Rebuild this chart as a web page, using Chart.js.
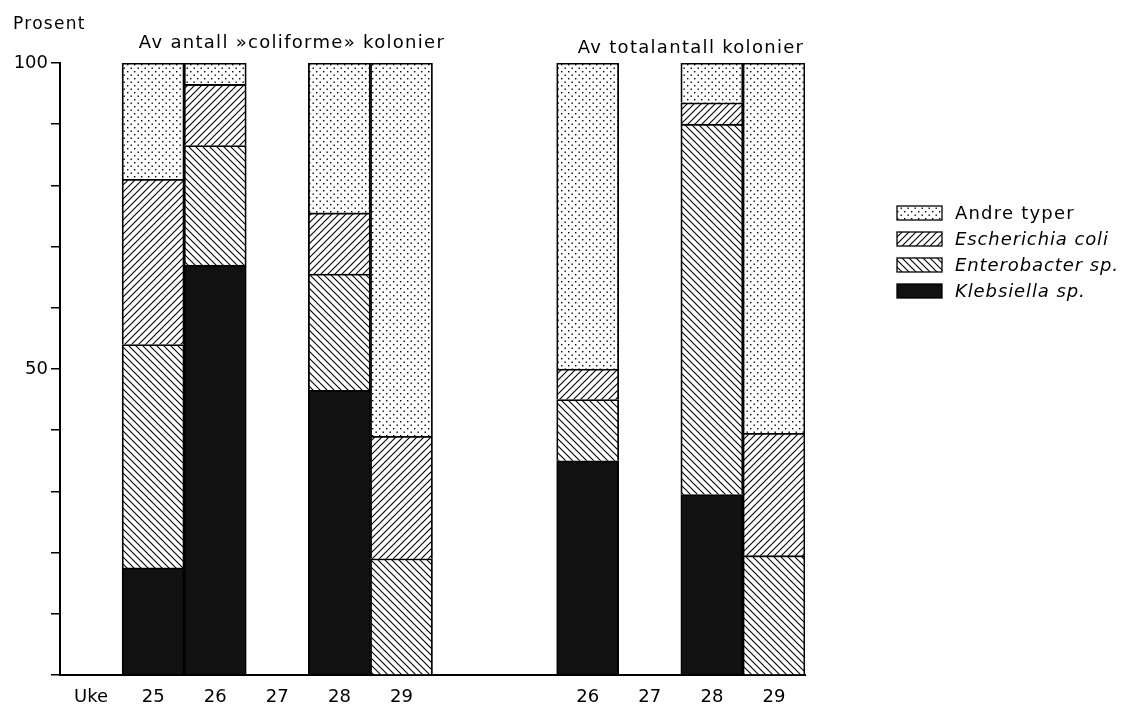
<!DOCTYPE html>
<html>
<head>
<meta charset="utf-8">
<script src="https://cdn.jsdelivr.net/npm/chart.js@4"></script>
<style>
  html, body { margin: 0; background: #fff; }
  #wrap { width: 1122px; height: 716px; }
</style>
</head>
<body>
<div id="wrap"><canvas id="chart"></canvas></div>
<script>
// Data (percent of colonies, stacked bottom to top)
const weeks = ["Uke", "25", "26", "27", "28", "29", "", "", "26", "27", "28", "29"];
const klebsiella   = [null, 17.5, 67,   null, 46.5, null, null, null, 35, null, 29.5, null];
const enterobacter = [null, 36.5, 19.5, null, 19,   19,   null, null, 10, null, 60.5, 19.5];
const eColi        = [null, 27,   10,   null, 10,   20,   null, null, 5,  null, 3.5,  20];
const andreTyper   = [null, 19,   3.5,  null, 24.5, 61,   null, null, 50, null, 6.5,  60.5];
const labeledTicks = [50, 100];

const FONT = "'DejaVu Sans', Arial, sans-serif";

// Fill patterns like the printed hatching
function makePattern(kind) {
  const c = document.createElement("canvas");
  const s = 7;
  c.width = s; c.height = s;
  const g = c.getContext("2d");
  g.fillStyle = "#fff";
  g.fillRect(0, 0, s, s);
  g.strokeStyle = "#000";
  g.fillStyle = "#000";
  g.lineWidth = 1.1;
  if (kind === "dots") {
    g.fillRect(1, 1, 1.4, 1.4);
    g.fillRect(4.5, 4.5, 1.4, 1.4);
  } else if (kind === "fwd") {
    g.beginPath();
    g.moveTo(-1, s + 1); g.lineTo(s + 1, -1);
    g.moveTo(-1, 1); g.lineTo(1, -1);
    g.moveTo(s - 1, s + 1); g.lineTo(s + 1, s - 1);
    g.stroke();
  } else {
    g.beginPath();
    g.moveTo(-1, -1); g.lineTo(s + 1, s + 1);
    g.moveTo(s - 1, -1); g.lineTo(s + 1, 1);
    g.moveTo(-1, s - 1); g.lineTo(1, s + 1);
    g.stroke();
  }
  return g.createPattern(c, "repeat");
}

const fillAndre = makePattern("dots");
const fillColi = makePattern("fwd");
const fillEntero = makePattern("back");
const fillKleb = "#111";

const legendItems = [
  { text: "Andre typer", fill: fillAndre, italic: false },
  { text: "Escherichia coli", fill: fillColi, italic: true },
  { text: "Enterobacter sp.", fill: fillEntero, italic: true },
  { text: "Klebsiella sp.", fill: fillKleb, italic: true }
];

// Titles, axis caption and legend
const decorations = {
  id: "decorations",
  afterDraw(chart) {
    const ctx = chart.ctx;
    ctx.save();
    ctx.fillStyle = "#000";
    ctx.textBaseline = "middle";
    ctx.letterSpacing = "1.3px";
    ctx.font = "17px " + FONT;
    ctx.textAlign = "left";
    ctx.fillText("Prosent", 13, 25);
    ctx.font = "18px " + FONT;
    ctx.textAlign = "center";
    ctx.fillText("Av antall \u00bbcoliforme\u00bb kolonier", 292, 43);
    ctx.fillText("Av totalantall kolonier", 691, 48);

    let y = 206;
    legendItems.forEach(item => {
      ctx.fillStyle = item.fill;
      ctx.fillRect(897, y, 45, 14);
      ctx.strokeStyle = "#000";
      ctx.lineWidth = 1.3;
      ctx.strokeRect(897, y, 45, 14);
      ctx.fillStyle = "#000";
      ctx.textAlign = "left";
      ctx.font = (item.italic ? "italic " : "") + "18px " + FONT;
      ctx.letterSpacing = item.italic ? "0.9px" : "1.2px";
      ctx.fillText(item.text, 955, y + 8);
      y += 26;
    });
    ctx.restore();
  }
};

const barStyle = { borderColor: "#000", borderWidth: 1.8, barPercentage: 1, categoryPercentage: 1 };

new Chart(document.getElementById("chart"), {
  type: "bar",
  data: {
    labels: weeks,
    datasets: [
      { label: "Klebsiella sp.", data: klebsiella, backgroundColor: fillKleb, ...barStyle },
      { label: "Enterobacter sp.", data: enterobacter, backgroundColor: fillEntero, ...barStyle },
      { label: "Escherichia coli", data: eColi, backgroundColor: fillColi, ...barStyle },
      { label: "Andre typer", data: andreTyper, backgroundColor: fillAndre, ...barStyle }
    ]
  },
  options: {
    responsive: true,
    maintainAspectRatio: false,
    animation: false,
    layout: { padding: { top: 63, right: 317, bottom: 0, left: 0 } },
    plugins: { legend: { display: false }, tooltip: { enabled: false } },
    scales: {
      x: {
        stacked: true,
        afterFit: s => { s.height = 41; },
        grid: { display: false, drawTicks: false },
        border: { color: "#000", width: 2 },
        ticks: { color: "#000", font: { family: FONT, size: 18 }, padding: 12, autoSkip: false, maxRotation: 0 }
      },
      y: {
        stacked: true,
        min: 0,
        max: 100,
        afterFit: s => { s.width = 60; },
        grid: { drawOnChartArea: false, tickLength: 9, color: "#000", lineWidth: 1.5 },
        border: { color: "#000", width: 2 },
        ticks: {
          stepSize: 10,
          color: "#000",
          padding: 3,
          font: { family: FONT, size: 18 },
          callback: v => labeledTicks.includes(v) ? String(v) : ""
        }
      }
    }
  },
  plugins: [decorations]
});
</script>
</body>
</html>
